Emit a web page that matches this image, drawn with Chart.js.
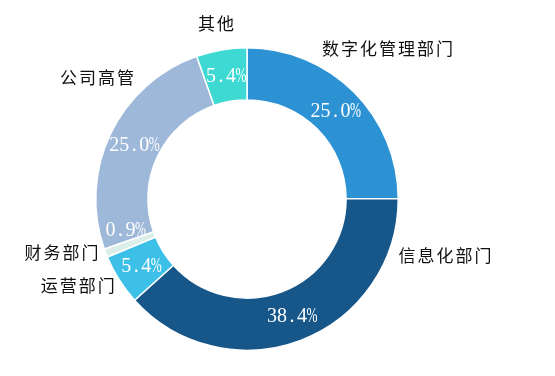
<!DOCTYPE html>
<html>
<head>
<meta charset="utf-8">
<script src="https://cdn.jsdelivr.net/npm/chart.js@4"></script>
<style>
  html, body { margin: 0; padding: 0; background: #fff; }
  #wrap { width: 555px; height: 376px; }
</style>
</head>
<body>
<div id="wrap"><canvas id="deptChart" width="555" height="376"></canvas></div>
<script>
// departments, clockwise from 12 o'clock
var departments = ["数字化管理部门", "信息化部门", "运营部门", "财务部门", "公司高管", "其他"];
var shares = [25.0, 38.4, 5.4, 0.9, 25.0, 5.4];
var sliceColors = ["#2C92D4", "#175689", "#3DC0E8", "#DCEEEA", "#9EB8DA", "#3DD9D2"];

// where each outside name sits: [angle in degrees clockwise from top, distance from centre]
var namePlace = [[43, 206], [106, 206], [243, 190], [254, 193], [-51, 193], [-10, 178]];

// draws the names outside the ring and the percentages inside it
var ringLabels = {
  id: "ringLabels",
  afterDatasetsDraw: function(chart) {
    var ctx = chart.ctx;
    var arcs = chart.getDatasetMeta(0).data;
    ctx.save();
    ctx.textBaseline = "middle";
    ctx.textAlign = "center";
    arcs.forEach(function(arc, i) {
      var p = arc.getProps(["x", "y", "startAngle", "endAngle", "innerRadius", "outerRadius"], true);

      // percentage inside the slice, fixed-width digits
      var mid = (p.startAngle + p.endAngle) / 2;
      var r = (p.innerRadius + p.outerRadius) / 2;
      if (i === 3) mid += 0.12;
      var tx = p.x + Math.cos(mid) * r;
      var ty = p.y + Math.sin(mid) * r;
      var txt = shares[i].toFixed(1) + "%";
      ctx.fillStyle = "#ffffff";
      ctx.font = "20px 'Liberation Serif', serif";
      var adv = 10;
      var x0 = tx - adv * txt.length / 2 + adv / 2;
      for (var k = 0; k < txt.length; k++) {
        ctx.fillText(txt[k], x0 + k * adv, ty + 1, adv + 1);
      }

      // department name outside
      var a = namePlace[i][0] * Math.PI / 180;
      var d = namePlace[i][1];
      var nx = p.x + Math.sin(a) * d;
      var ny = p.y - Math.cos(a) * d;
      ctx.fillStyle = "#111111";
      ctx.font = "17px 'Noto Sans CJK SC', sans-serif";
      ctx.letterSpacing = "2px";
      ctx.fillText(departments[i], nx + 1, ny);
      ctx.letterSpacing = "0px";
    });
    ctx.restore();
  }
};

var ctx = document.getElementById("deptChart").getContext("2d");
window.deptChart = new Chart(ctx, {
  type: "doughnut",
  data: {
    labels: departments,
    datasets: [{
      data: shares,
      backgroundColor: sliceColors,
      borderColor: "#ffffff",
      borderWidth: 1.5
    }]
  },
  options: {
    responsive: false,
    animation: false,
    cutout: "65.5%",
    layout: { padding: { left: 95, right: 156, top: 47, bottom: 25 } },
    events: [],
    plugins: {
      legend: { display: false },
      tooltip: { enabled: false }
    }
  },
  plugins: [ringLabels]
});
</script>
</body>
</html>
